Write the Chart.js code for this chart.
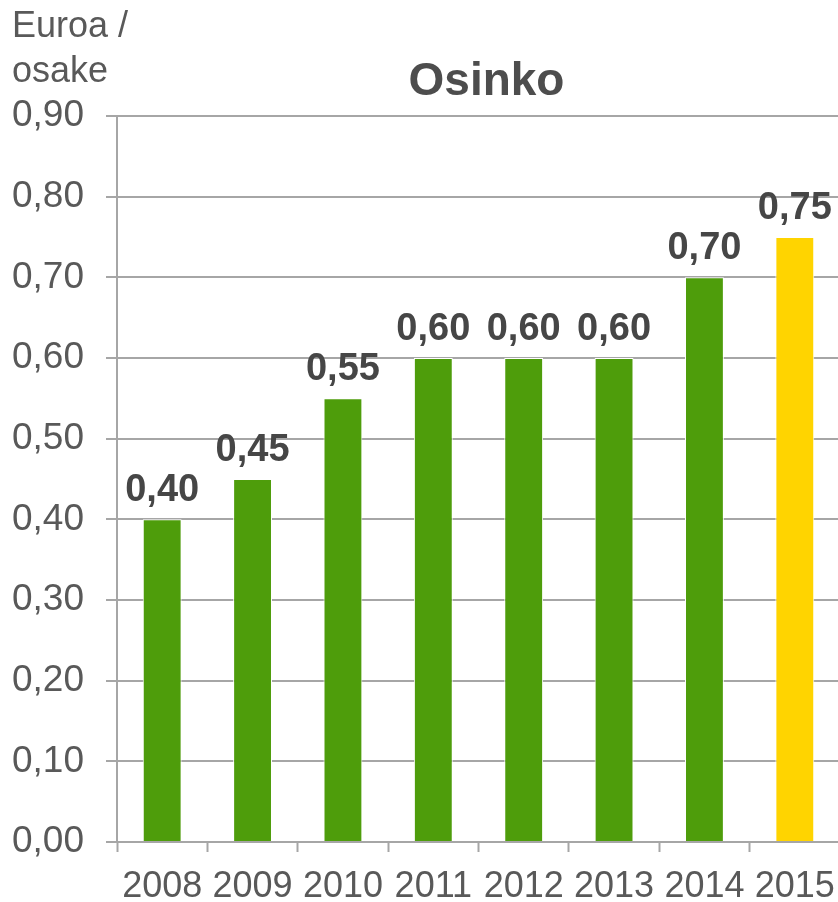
<!DOCTYPE html>
<html>
<head>
<meta charset="utf-8">
<script src="https://cdn.jsdelivr.net/npm/chart.js@4.4.1/dist/chart.umd.min.js"></script>
<style>
  html, body { margin: 0; padding: 0; background: #fff; overflow: hidden; }
  #wrap { width: 838px; height: 902px; overflow: hidden; }
  canvas { display: block; }
</style>
</head>
<body>
<div id="wrap"><canvas id="chart" width="858" height="902"></canvas></div>
<script>
// Chart data
const years = ['2008', '2009', '2010', '2011', '2012', '2013', '2014', '2015'];
const dividend = [0.40, 0.45, 0.55, 0.60, 0.60, 0.60, 0.70, 0.75];
const barColors = ['#4e9d0b', '#4e9d0b', '#4e9d0b', '#4e9d0b', '#4e9d0b', '#4e9d0b', '#4e9d0b', '#ffd400'];
const chartTitle = 'Osinko';
const unitLines = ['Euroa /', 'osake'];

const fmt = v => v.toFixed(2).replace('.', ',');

// Labels above the bars + title texts
const labelPlugin = {
  id: 'labels',
  afterDatasetsDraw(chart) {
    const ctx = chart.ctx;
    const meta = chart.getDatasetMeta(0);
    ctx.save();
    ctx.font = 'bold 38px "Liberation Sans", Arial, sans-serif';
    ctx.fillStyle = '#464646';
    ctx.textAlign = 'center';
    ctx.textBaseline = 'alphabetic';
    meta.data.forEach((bar, i) => {
      ctx.fillText(fmt(dividend[i]), bar.x, bar.y - 18);
    });

    // Title
    const area = chart.chartArea;
    ctx.font = 'bold 46px "Liberation Sans", Arial, sans-serif';
    ctx.fillStyle = '#4d4d4d';
    ctx.fillText(chartTitle, (area.left + area.right) / 2 + 8, area.top - 21);

    // Unit text top-left
    ctx.font = '36px "Liberation Sans", Arial, sans-serif';
    ctx.fillStyle = '#595959';
    ctx.textAlign = 'left';
    unitLines.forEach((line, i) => {
      ctx.fillText(line, 12, 37 + i * 45);
    });
    ctx.restore();
  }
};

const gridColor = '#a6a6a6';

new Chart(document.getElementById('chart').getContext('2d'), {
  type: 'bar',
  data: {
    labels: years,
    datasets: [{
      data: dividend,
      backgroundColor: barColors,
      borderColor: '#ffffff',
      borderWidth: 1,
      categoryPercentage: 1,
      barPercentage: 0.43
    }]
  },
  options: {
    responsive: false,
    animation: false,
    layout: { padding: { top: 116, right: 18, left: 0, bottom: 0 } },
    plugins: {
      legend: { display: false },
      title: { display: false },
      tooltip: { enabled: false }
    },
    scales: {
      x: {
        offset: true,
        grid: {
          offset: true,
          drawOnChartArea: false,
          drawTicks: true,
          tickLength: 10,
          tickWidth: 2,
          tickColor: gridColor
        },
        border: { color: gridColor, width: 2 },
        ticks: {
          color: '#595959',
          font: { family: '"Liberation Sans", Arial, sans-serif', size: 36 },
          padding: 13,
          maxRotation: 0,
          autoSkip: false
        },
        afterFit(scale) { scale.height = 60; }
      },
      y: {
        min: 0,
        max: 0.9,
        grid: {
          color: gridColor,
          lineWidth: 2,
          drawTicks: true,
          tickLength: 11,
          tickColor: gridColor
        },
        border: { color: gridColor, width: 2 },
        ticks: {
          stepSize: 0.1,
          color: '#595959',
          font: { family: '"Liberation Sans", Arial, sans-serif', size: 37 },
          padding: 22,
          callback: v => fmt(v)
        },
        afterFit(scale) { scale.width = 117; }
      }
    }
  },
  plugins: [labelPlugin]
});
</script>
</body>
</html>
